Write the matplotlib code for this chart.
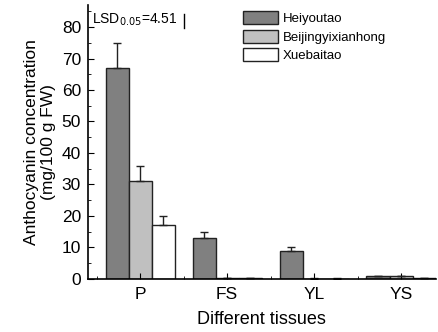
import matplotlib.pyplot as plt
from matplotlib.ticker import MultipleLocator, FixedLocator
import numpy as np

plt.rcParams['font.family'] = ['Liberation Sans', 'DejaVu Sans']

tissues = ['P', 'FS', 'YL', 'YS']
cultivars = ['Heiyoutao', 'Beijingyixianhong', 'Xuebaitao']
heiyoutao = [67, 13, 9, 0.8]
beijing = [31, 0.2, 0.1, 0.8]
xuebaitao = [17, 0.2, 0.1, 0.2]
err_heiyoutao = [8, 2, 1, 0.2]
err_beijing = [5, 0.1, 0.1, 0.2]
err_xuebaitao = [3, 0.1, 0.1, 0.1]
lsd = 4.51

colors = ['#808080', '#c0c0c0', '#ffffff']

fig = plt.figure(figsize=(4.38, 3.32), dpi=100)
ax = fig.add_axes([0.201, 0.16, 0.794, 0.825])

x = np.arange(len(tissues))
w = 0.265
series = [heiyoutao, beijing, xuebaitao]
errs = [err_heiyoutao, err_beijing, err_xuebaitao]
for i, (vals, e) in enumerate(zip(series, errs)):
    ax.bar(x + (i - 1) * w, vals, w, color=colors[i], edgecolor='#222222',
           linewidth=1, label=cultivars[i],
           yerr=[np.zeros(len(e)), e], capsize=3,
           error_kw=dict(ecolor='#222222', elinewidth=1, capthick=1))

# LSD bar
ax.text(-0.55, 82.2, 'LSD$_{0.05}$=4.51', fontsize=10, va='center', ha='left')
ax.plot([0.5, 0.5], [84.2 - lsd, 84.2], color='black', linewidth=1)

ax.set_xlim(-0.6, 3.4)
ax.set_ylim(0, 87)
ax.set_xticks(x)
ax.set_xticklabels(tissues)
ax.xaxis.set_minor_locator(FixedLocator([-0.5, 0.5, 1.5, 2.5]))
ax.yaxis.set_major_locator(MultipleLocator(10))
ax.yaxis.set_minor_locator(MultipleLocator(5))
ax.tick_params(axis='both', which='both', direction='in')
ax.tick_params(axis='both', which='major', length=4, labelsize=12.5)
ax.tick_params(axis='both', which='minor', length=2)
ax.tick_params(axis='x', which='major', pad=6)
ax.tick_params(axis='y', which='major', pad=5)

for s in ['top', 'right']:
    ax.spines[s].set_visible(False)
ax.spines['left'].set_linewidth(1.2)
ax.spines['bottom'].set_linewidth(1.2)

ax.set_xlabel('Different tissues', fontsize=13, labelpad=6)
ax.set_ylabel('Anthocyanin concentration\n(mg/100 g FW)', fontsize=12.5,
              labelpad=4)

ax.legend(loc='upper left', bbox_to_anchor=(0.42, 1.01), frameon=False,
          fontsize=9.5, handlelength=2.6, handleheight=1.1, labelspacing=0.35,
          handletextpad=0.4, borderpad=0.2)

fig.savefig('out.png', dpi=100)
